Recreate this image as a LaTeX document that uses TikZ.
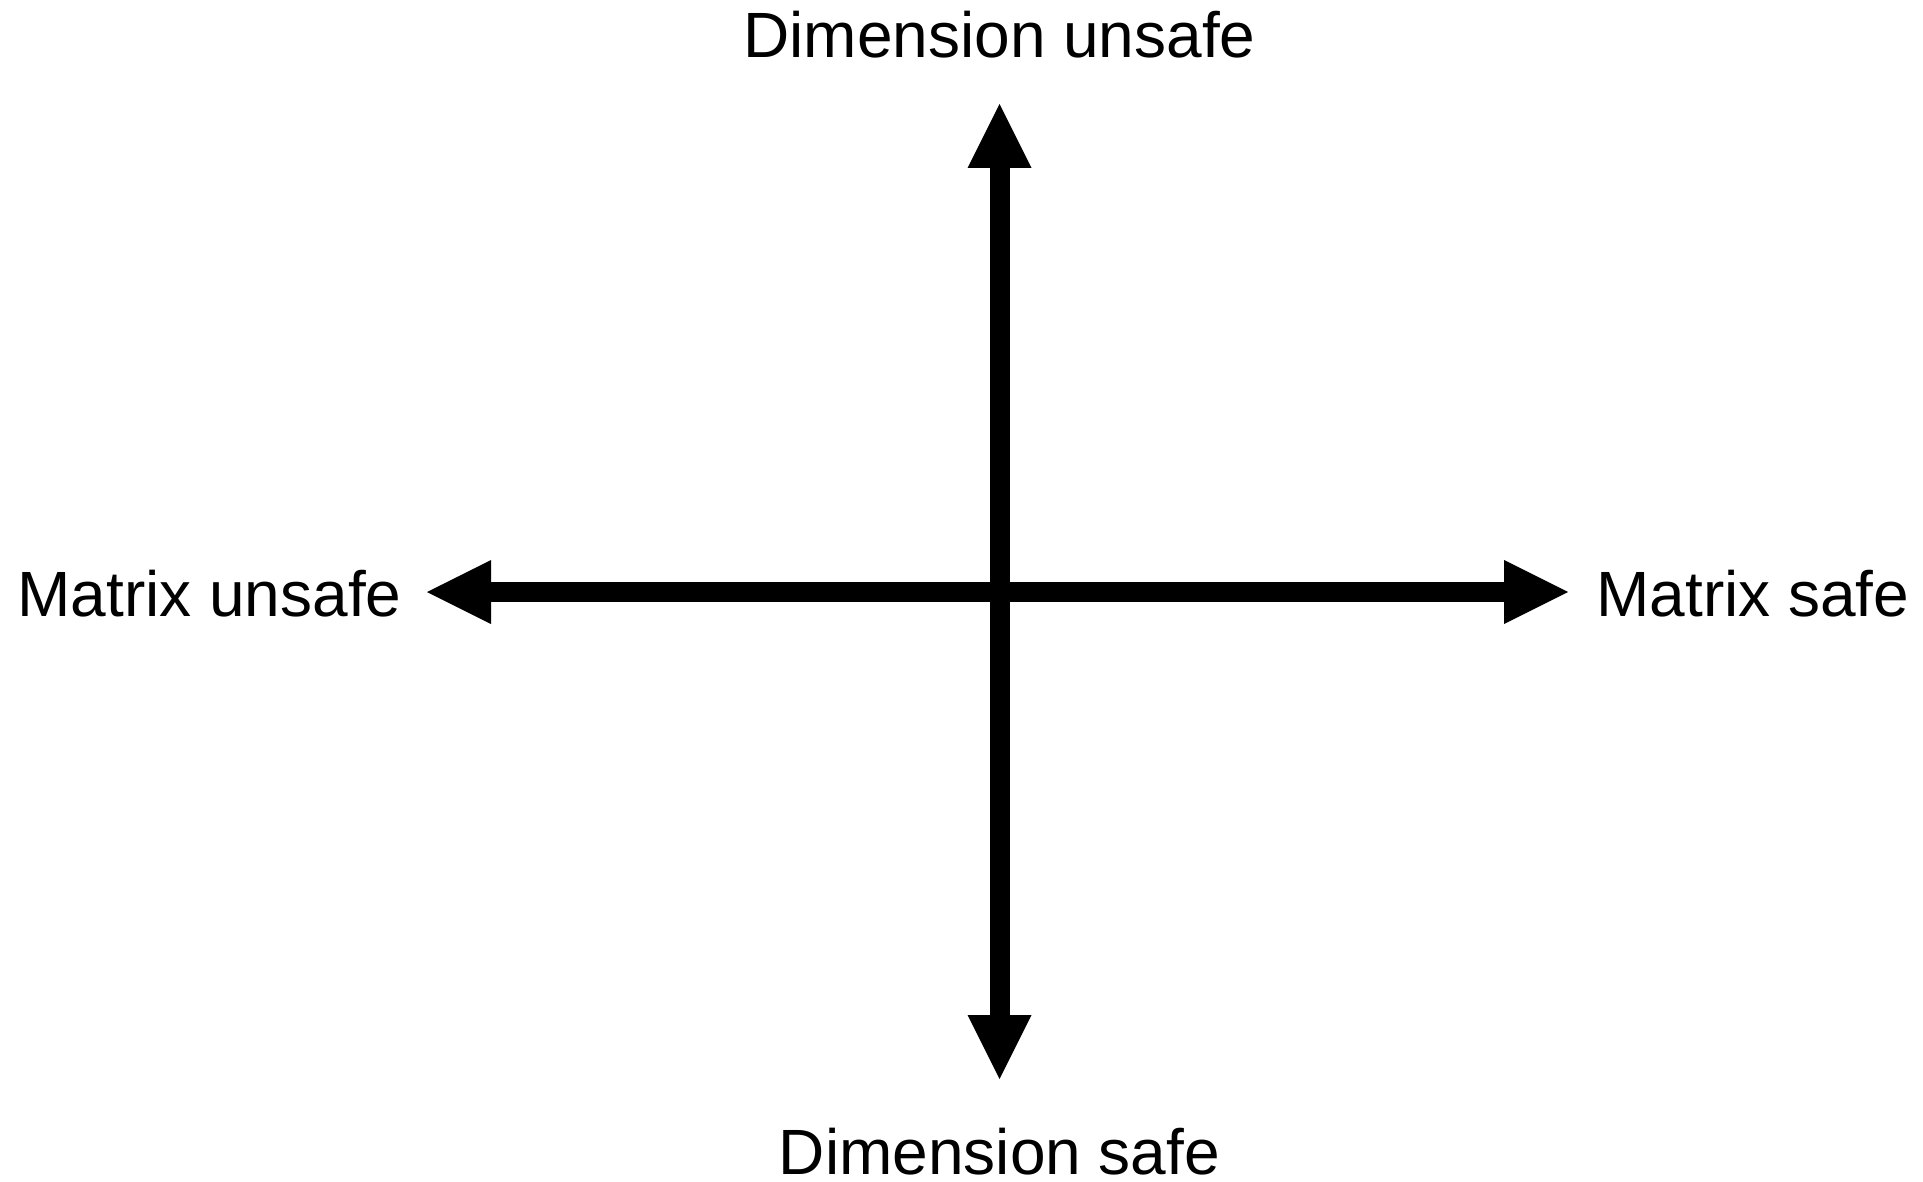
\documentclass[tikz,border=0pt]{standalone}
\usepackage{fontspec}
\setmainfont{Liberation Sans}
\usetikzlibrary{arrows.meta}
\tikzset{
  axisline/.style={line width=10pt, draw=black,
    {Triangle[width=32pt,length=32pt,line width=0pt]}-{Triangle[width=32pt,length=32pt,line width=0pt]}},
  lbl/.style={inner sep=0pt, font=\fontsize{32pt}{36pt}\selectfont}
}
\begin{document}
\begin{tikzpicture}[x=0.5pt,y=-0.5pt]
\useasboundingbox[fill=white] (0,0) rectangle (1923,1182);
\coordinate (T) at (999.5,104);
\coordinate (B) at (999.5,1079);
\coordinate (L) at (427,592);
\coordinate (R) at (1568,592);
\node[lbl, anchor=base] (du) at (999.5,58) {Dimension unsafe};
\node[lbl, anchor=base] (ds) at (999.5,1174) {Dimension safe};
\node[lbl, anchor=base west] (mu) at (17,616) {Matrix unsafe};
\node[lbl, anchor=base west] (ms) at (1596,616) {Matrix safe};
\draw[axisline] (L) -- (R);
\draw[axisline] (B) -- (T);
\end{tikzpicture}
\end{document}
